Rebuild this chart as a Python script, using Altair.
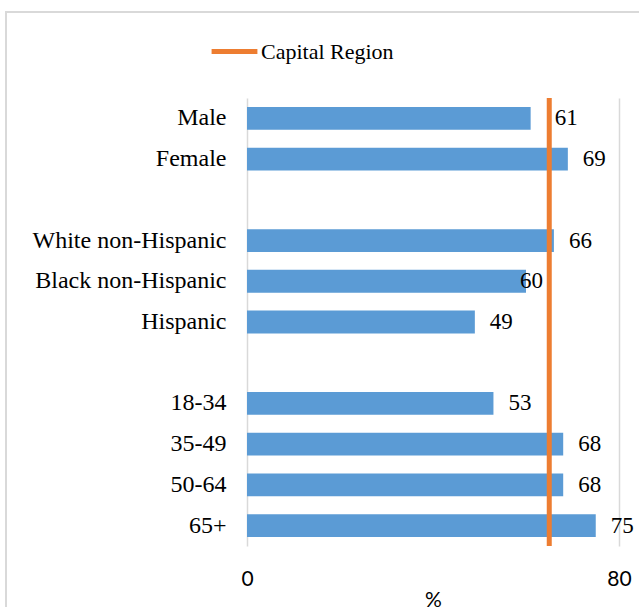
import altair as alt
import pandas as pd

# Share (%) by group, with blank spacer rows between the groups
categories = ["Male", "Female", " ",
              "White non-Hispanic", "Black non-Hispanic", "Hispanic", "  ",
              "18-34", "35-49", "50-64", "65+"]
values = [61, 69, None, 66, 60, 49, None, 53, 68, 68, 75]
region_name = "Capital Region"
region_value = 65

bars_df = pd.DataFrame({"group": categories, "pct": values})
region_df = pd.DataFrame({"series": [region_name], "pct": [region_value]})

SERIF = "Liberation Serif"
SANS = "Lato"
BLUE = "#5B9BD5"
ORANGE = "#ED7D31"

y_enc = alt.Y("group:N", sort=categories, title=None,
              scale=alt.Scale(paddingInner=0.44, paddingOuter=0.22),
              axis=alt.Axis(labelFont=SERIF, labelFontSize=24, labelColor="#000000",
                            labelPadding=21, ticks=False, domain=False, grid=False,
                            labelLimit=400))
x_scale = alt.Scale(domain=[0, 80], nice=False)

bars = alt.Chart(bars_df).mark_bar(color=BLUE).encode(
    x=alt.X("pct:Q", scale=x_scale, title="%",
            axis=alt.Axis(values=[0, 80], grid=True, gridColor="#D9D9D9", gridWidth=1.5,
                          domain=False, ticks=False, labelFont=SANS, labelFontSize=21,
                          labelColor="#000000", labelPadding=22, labelBaseline="top",
                          titleFont=SANS, titleFontSize=21, titleFontWeight="normal",
                          titleColor="#000000", titlePadding=0, labelFlush=False)),
    y=y_enc,
)

# value labels, a couple nudged away from the reference line
def value_labels(dx, keep):
    return alt.Chart(bars_df).transform_filter(keep).mark_text(
        align="left", baseline="middle", dx=dx, font=SERIF, fontSize=23, color="#000000"
    ).encode(
        x=alt.X("pct:Q", scale=x_scale),
        y=alt.Y("group:N", sort=categories),
        text=alt.Text("pct:Q", format="d"),
    )

labels_default = value_labels(15, "isValid(datum.pct) && datum.group != 'Male' && datum.group != 'Black non-Hispanic'")
labels_male = value_labels(24, "datum.group == 'Male'")
labels_black = value_labels(-6, "datum.group == 'Black non-Hispanic'")

rule = alt.Chart(region_df).mark_rule(strokeWidth=5).encode(
    x=alt.X("pct:Q", scale=x_scale),
    color=alt.Color("series:N", title=None,
                    scale=alt.Scale(domain=[region_name], range=[ORANGE]),
                    legend=alt.Legend(orient="none", legendX=-38, legendY=-72,
                                      symbolType="stroke", symbolSize=2100,
                                      symbolStrokeWidth=5, labelFont=SERIF,
                                      labelFontSize=22, labelColor="#000000",
                                      labelOffset=1, padding=0)),
)

# outer frame of the chart
frame = alt.Chart(region_df).mark_rect(
    fill=None, stroke="#D9D9D9", strokeWidth=2, clip=False
).encode(
    x=alt.value(-241), x2=alt.value(420), y=alt.value(-86), y2=alt.value(560)
)

chart = alt.layer(frame, bars, rule, labels_default, labels_male, labels_black).properties(
    width=372, height=448,
    autosize=alt.AutoSizeParams(type="none"),
    padding={"left": 247, "top": 98, "right": 20, "bottom": 61},
).configure(background="white").configure_view(stroke=None)

chart.save("out.html", embed_options={"renderer": "svg", "actions": False})
